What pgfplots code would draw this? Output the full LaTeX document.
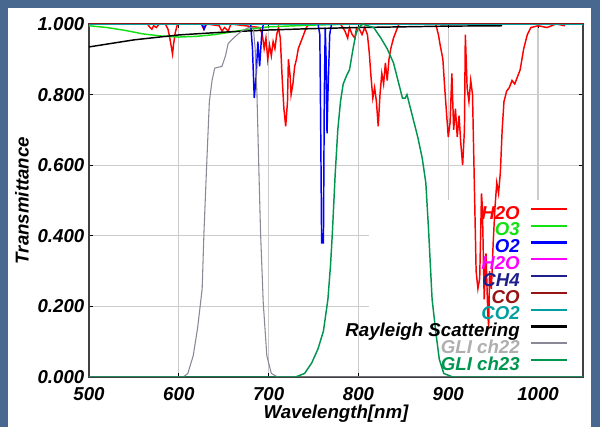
\documentclass[border=0pt]{standalone}
\usepackage{pgfplots}
\usepackage{fontspec}
\setmainfont{Liberation Sans}
\pgfplotsset{compat=1.18}

\definecolor{slide}{RGB}{72,104,144}
\definecolor{ch2o}{RGB}{255,0,0}
\definecolor{co3}{RGB}{20,225,20}
\definecolor{co2x}{RGB}{0,0,255}
\definecolor{ch2ob}{RGB}{255,0,255}
\definecolor{cch4}{RGB}{30,30,140}
\definecolor{cco}{RGB}{150,20,20}
\definecolor{cco2}{RGB}{0,160,160}
\definecolor{cgli22}{RGB}{140,135,150}
\definecolor{tgli22}{RGB}{175,175,175}
\definecolor{cgli23}{RGB}{0,150,80}

\newcommand{\lbl}{\fontsize{14}{16}\selectfont\bfseries\itshape}

\begin{document}
\begin{tikzpicture}
  % slide background and white panel
  \fill[slide] (0,0) rectangle (450pt,320.25pt);
  \fill[white] (6pt,0pt) rectangle (443.25pt,314.25pt);

  \begin{axis}[
      at={(66.75pt,37.5pt)}, anchor=south west,
      scale only axis, width=370.5pt, height=264.75pt,
      xmin=500, xmax=1050, ymin=0, ymax=1,
      xtick={500,600,...,1000},
      ytick={0,0.2,0.4,0.6,0.8,1},
      grid=major,
      major grid style={color=black!20, line width=0.9pt},
      axis line style={black!75, line width=1pt},
      tick align=inside, major tick length=3pt,
      tick style={black, line width=0.8pt},
      ticklabel style={font=\lbl},
      /pgf/number format/assume math mode=true,
      yticklabel style={/pgf/number format/.cd, fixed, fixed zerofill, precision=3},
      xticklabel style={yshift=-4pt, /pgf/number format/.cd, fixed, set thousands separator={}},
      xlabel={Wavelength[nm]}, ylabel={Transmittance},
      label style={font=\lbl},
      xlabel style={at={(axis description cs:0.5,-0.105)}, anchor=center},
      ylabel style={at={(axis description cs:-0.1356,0.5)}, anchor=center},
      legend cell align=right, legend plot pos=right,
      legend image code/.code={\draw[#1, line width=1.6pt] (0pt,4.6pt) -- (27pt,4.6pt);},
      legend style={at={(0.978,0.491)}, anchor=north east, draw=none, fill=none,
        font=\lbl, row sep=0pt, column sep=7.5pt,
        nodes={inner sep=0pt, text height=9.4pt, text depth=3.2pt}},
      every axis plot/.append style={line width=1.1pt},
    ]
    % the key area has no grid lines
    \fill[white] ([yshift=0.8pt]axis cs:812,0) rectangle ([xshift=-0.8pt]axis cs:1050,0.5);

    \addplot[ch2o] coordinates {
      (500,1.0)(565,1.0)(568,0.99)(570,0.985)(572,0.995)(575,0.99)(578,1.0)
      (585,1.0)(588,0.985)(590,0.96)(592,0.93)(593,0.915)(594,0.94)(596,0.975)(598,0.995)
      (600,1.0)(625,1.0)(628,0.985)(631,1.0)(645,0.995)(648,0.98)(651,0.99)(655,0.98)(658,1.0)
      (690,0.99)(693,0.97)(695,0.93)(697,0.96)(699,0.90)(701,0.94)(703,0.91)(705,0.95)
      (707,0.93)(709,0.97)(711,0.99)(713,0.96)(715,0.85)(717,0.76)(719,0.71)(721,0.78)
      (722,0.90)(724,0.85)(725,0.80)(727,0.83)(729,0.88)(731,0.90)(733,0.93)(736,0.95)
      (739,0.97)(742,0.99)(745,1.0)(780,1.0)(785,0.98)(788,0.96)(790,0.99)(793,0.97)
      (796,0.96)(798,0.99)(800,0.99)(804,0.97)(807,0.99)(810,0.97)(812,0.92)(814,0.85)
      (816,0.79)(818,0.82)(820,0.78)(822,0.71)(824,0.80)(826,0.86)(828,0.83)(830,0.89)
      (832,0.84)(834,0.90)(836,0.93)(839,0.96)(842,0.98)(845,1.0)(886,1.0)(889,0.97)
      (891,0.94)(894,0.90)(896,0.82)(898,0.75)(900,0.68)(902,0.72)(904,0.86)(906,0.70)
      (908,0.76)(910,0.68)(912,0.74)(914,0.66)(916,0.60)(918,0.70)(919,0.97)(921,0.82)
      (923,0.78)(925,0.84)(927,0.80)(929,0.55)(931,0.30)(933,0.25)(935,0.28)(937,0.52)
      (938,0.48)(940,0.22)(942,0.35)(944,0.18)(945,0.14)(946,0.30)(948,0.25)(950,0.38)
      (952,0.48)(954,0.55)(956,0.52)(958,0.58)(960,0.70)(962,0.78)(965,0.81)(968,0.82)
      (971,0.84)(974,0.83)(977,0.85)(980,0.87)(984,0.93)(988,0.97)(992,0.99)(1000,0.995)
      (1010,0.99)(1020,1.0)(1030,0.995)};
    \addlegendentry{\textcolor{ch2o}{H2O}}

    \addplot[co3] coordinates {
      (500,0.995)(520,0.99)(540,0.982)(560,0.972)(580,0.966)(600,0.963)(620,0.965)
      (640,0.970)(660,0.978)(680,0.986)(700,0.992)(750,0.997)(800,1.0)(1050,1.0)};
    \addlegendentry{\textcolor{co3}{O3}}

    \addplot[co2x] coordinates {
      (500,1.0)(626,1.0)(628,0.985)(630,1.0)(680,1.0)(682,0.93)(684,0.79)(686,0.85)
      (688,0.95)(690,0.88)(692,0.96)(694,1.0)(755,1.0)(757,0.97)(758,0.70)(759,0.38)
      (761,0.38)(762,0.80)(763,0.99)(764,0.90)(765,0.69)(766,0.80)(768,0.97)(770,1.0)
      (1050,1.0)};
    \addlegendentry{\textcolor{co2x}{O2}}

    \addplot[ch2ob] coordinates {(500,1.0)(1050,1.0)};
    \addlegendentry{\textcolor{ch2ob}{H2O}}

    \addplot[cch4] coordinates {(500,1.0)(1050,1.0)};
    \addlegendentry{\textcolor{cch4}{CH4}}

    \addplot[cco] coordinates {(500,1.0)(1050,1.0)};
    \addlegendentry{\textcolor{cco}{CO}}

    \addplot[cco2] coordinates {(500,0.998)(1050,0.998)};
    \addlegendentry{\textcolor{cco2}{CO2}}

    \addplot[black] coordinates {
      (500,0.935)(550,0.955)(600,0.969)(650,0.977)(700,0.983)(750,0.987)(800,0.990)
      (850,0.992)(900,0.994)(960,0.995)};
    \addlegendentry{Rayleigh Scattering}

    \addplot[cgli22, line width=0.8pt] coordinates {
      (500,0)(605,0)(610,0.01)(616,0.06)(621,0.14)(626,0.25)(628,0.41)(631,0.60)
      (634,0.78)(637,0.84)(640,0.875)(648,0.88)(652,0.91)(655,0.945)(663,0.965)
      (670,0.98)(678,0.99)(683,0.99)(685,0.93)(687,0.80)(689,0.60)(691,0.41)(694,0.21)
      (698,0.06)(703,0.01)(710,0)(1050,0)};
    \addlegendentry{\textcolor{tgli22}{GLI ch22}}

    \addplot[cgli23] coordinates {
      (500,0)(730,0)(740,0.01)(748,0.04)(755,0.08)(761,0.13)(766,0.22)(769,0.32)
      (771,0.41)(774,0.57)(777,0.70)(780,0.78)(783,0.83)(787,0.855)(790,0.87)(794,0.93)
      (797,0.97)(800,0.99)(805,1.0)(810,0.995)(817,0.99)(825,0.96)(832,0.93)(839,0.89)
      (845,0.83)(849,0.79)(852,0.79)(854,0.80)(856,0.78)(860,0.74)(866,0.68)(871,0.62)
      (875,0.55)(878,0.42)(880,0.32)(882,0.22)(886,0.13)(890,0.05)(895,0.01)(905,0)
      (1050,0)};
    \addlegendentry{\textcolor{cgli23}{GLI ch23}}
  \end{axis}
  \pgfresetboundingbox
  \useasboundingbox (0,0) rectangle (450pt,320.25pt);
\end{tikzpicture}
\end{document}
